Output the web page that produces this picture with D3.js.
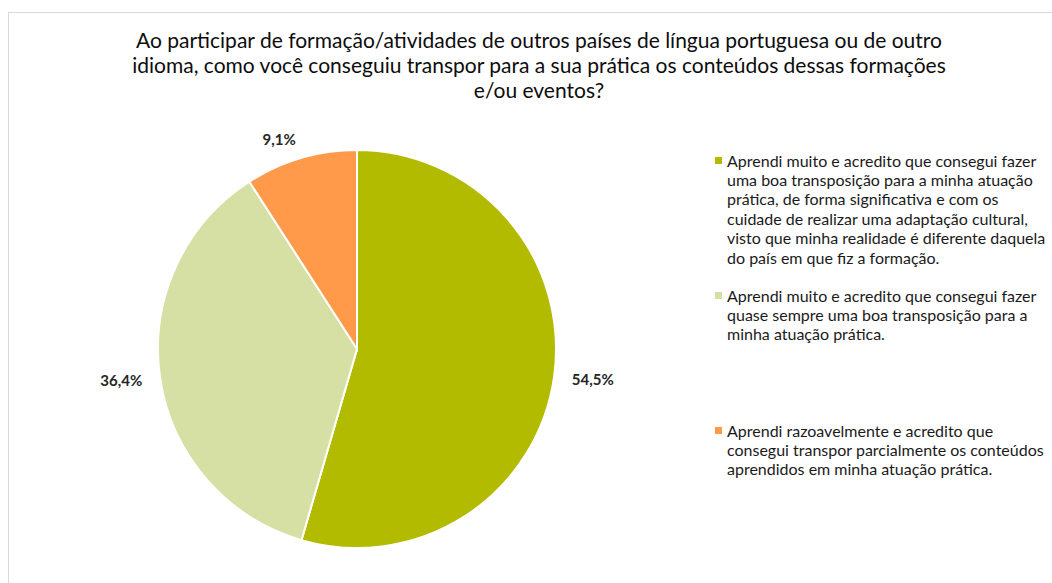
<!DOCTYPE html>
<html>
<head>
<meta charset="utf-8">
<script src="https://cdn.jsdelivr.net/npm/d3@7"></script>
<style>
  body { margin: 0; background: #fff; }
  svg text { font-family: Lato, "Open Sans", sans-serif; }
</style>
</head>
<body>
<svg width="1052" height="583"></svg>
<script>
// chart values
const titleLines = [
    'Ao participar de formação/atividades de outros países de língua portuguesa ou de outro',
    'idioma, como você conseguiu transpor para a sua prática os conteúdos dessas formações',
    'e/ou eventos?'
];
const categories = [
    ['Aprendi muito e acredito que consegui fazer', 'uma boa transposição para a minha atuação', 'prática, de forma significativa e com os', 'cuidade de realizar uma adaptação cultural,', 'visto que minha realidade é diferente daquela', 'do país em que fiz a formação.'],
    ['Aprendi muito e acredito que consegui fazer', 'quase sempre uma boa transposição para a', 'minha atuação prática.'],
    ['Aprendi razoavelmente e acredito que', 'consegui transpor parcialmente os conteúdos', 'aprendidos em minha atuação prática.']
];
const values = [54.5, 36.4, 9.1];
const colors = ['#b2bb00', '#d6dfa4', '#ff9a4b'];

const svg = d3.select('svg');

// chart area border
svg.append('rect')
    .attr('x', 8.5).attr('y', 12.5)
    .attr('width', 1100).attr('height', 700)
    .attr('fill', 'none')
    .attr('stroke', '#d9d9d9');

// title
svg.append('g').selectAll('text')
    .data(titleLines)
    .join('text')
    .attr('x', 539)
    .attr('y', (d, i) => 48 + i * 25)
    .attr('text-anchor', 'middle')
    .attr('font-size', 21)
    .attr('fill', '#0d0d0d')
    .text(d => d);

// pie
const cx = 357, cy = 349, r = 199;
const pie = d3.pie().sort(null).value(d => d);
const arcs = pie(values);
const arc = d3.arc().innerRadius(0).outerRadius(r);
const g = svg.append('g').attr('transform', `translate(${cx},${cy})`);
g.selectAll('path')
    .data(arcs)
    .join('path')
    .attr('d', arc)
    .attr('fill', (d, i) => colors[i])
    .attr('stroke', '#fff')
    .attr('stroke-width', 2);

// outside labels, box pushed just past the rim
const fmt = v => d3.format('.1f')(v).replace('.', ',') + '%';
const mid = d => (d.startAngle + d.endAngle) / 2;
g.selectAll('text')
    .data(arcs)
    .join('text')
    .attr('font-size', 15)
    .attr('font-weight', 'bold')
    .attr('fill', '#262626')
    .attr('text-anchor', 'middle')
    .attr('dy', '0.35em')
    .text(d => fmt(d.data))
    .attr('x', function(d) {
        const w = this.getComputedTextLength();
        const s = Math.sin(mid(d));
        return s * (r + 18) + Math.sign(s) * w / 2;
    })
    .attr('y', d => -Math.cos(mid(d)) * (r + 19));

// legend
const legendY = d3.scalePoint().domain(d3.range(categories.length)).range([161, 431]);
const legend = svg.append('g').selectAll('g')
    .data(categories)
    .join('g')
    .attr('transform', (d, i) => `translate(715,${legendY(i)})`);
legend.append('rect')
    .attr('x', 0).attr('y', -4)
    .attr('width', 7).attr('height', 7)
    .attr('fill', (d, i) => colors[i]);
legend.selectAll('text')
    .data(d => d)
    .join('text')
    .attr('x', 12)
    .attr('y', (d, i) => i * 19.4)
    .attr('dy', '0.35em')
    .attr('font-size', 16)
    .attr('fill', '#1a1a1a')
    .text(d => d);
</script>
</body>
</html>
